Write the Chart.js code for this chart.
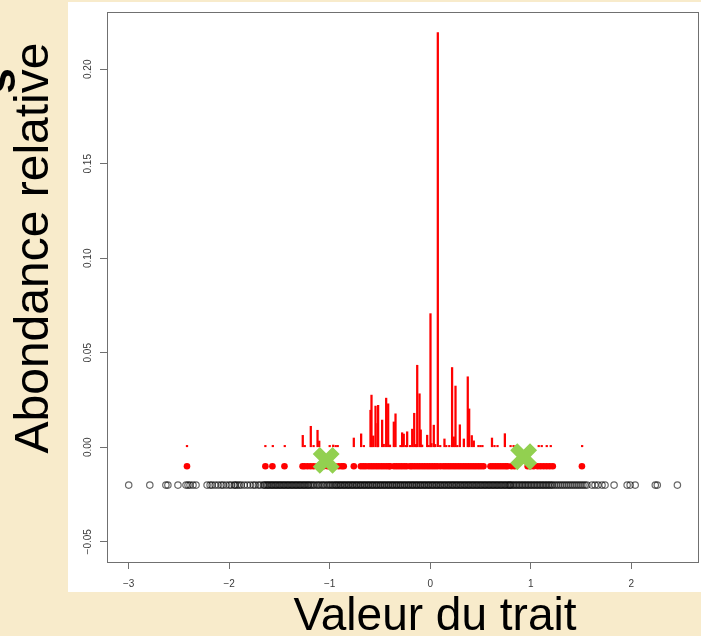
<!DOCTYPE html>
<html>
<head>
<meta charset="utf-8">
<script src="https://cdn.jsdelivr.net/npm/chart.js@4.4.1/dist/chart.umd.min.js"></script>
<style>
html, body { margin: 0; padding: 0; background: #F8EBCB; overflow: hidden; }
#wrap { width: 701px; height: 636px; }
</style>
</head>
<body>
<div id="wrap"><canvas id="chart" width="701" height="636"></canvas></div>
<script>
// --- DATA ---
const xTicks = [-3, -2, -1, 0, 1, 2];
const xTickLabels = ['\u22123', '\u22122', '\u22121', '0', '1', '2'];
const yTicks = [-0.05, 0, 0.05, 0.10, 0.15, 0.20];
const yTickLabels = ['\u22120.05', '0.00', '0.05', '0.10', '0.15', '0.20'];

// trait values of all species in the pool (black open circles at y = -0.02)
const poolX = [
  -3.00, -2.79, -2.63, -2.61, -2.51, -2.43, -2.41, -2.39, -2.36, -2.33,
  -2.22, -2.19, -2.17, -2.14, -2.11, -2.08, -2.06, -2.03, -2.00, -1.98, -1.95, -1.94, -1.92, -1.90, -1.88,
  -1.85, -1.82, -1.79, -1.76, -1.74, -1.71, -1.69,
  -1.66, -1.65, -1.635, -1.62, -1.61, -1.595, -1.58, -1.57, -1.555, -1.54, -1.53, -1.515, -1.50, -1.49,
  -1.475, -1.46, -1.45, -1.435, -1.42, -1.41, -1.395, -1.38, -1.37, -1.355, -1.34, -1.33, -1.315, -1.30,
  -1.29, -1.275, -1.26, -1.25, -1.235, -1.22, -1.21, -1.195, -1.18, -1.165, -1.15, -1.13, -1.115, -1.10,
  -1.08, -1.065, -1.05, -1.03, -1.015, -1.00, -0.985, -0.97, -0.955, -0.94, -0.93, -0.915, -0.90, -0.89,
  -0.875, -0.86, -0.85, -0.835, -0.82, -0.81, -0.795, -0.78, -0.77, -0.755, -0.74, -0.73, -0.715, -0.70,
  -0.69, -0.675, -0.66, -0.65, -0.635, -0.62, -0.61, -0.595, -0.58, -0.57, -0.555, -0.54, -0.53, -0.515,
  -0.50, -0.49, -0.475, -0.46, -0.45, -0.435, -0.42, -0.41, -0.395, -0.38, -0.37, -0.355, -0.34, -0.33,
  -0.315, -0.30, -0.29, -0.275, -0.26, -0.25, -0.235, -0.22, -0.21, -0.195, -0.18, -0.17, -0.155, -0.14,
  -0.13, -0.115, -0.10, -0.09, -0.075, -0.06, -0.05, -0.035, -0.02, -0.01, 0.005, 0.02, 0.03, 0.045,
  0.06, 0.07, 0.085, 0.10, 0.11, 0.125, 0.14, 0.15, 0.165, 0.18, 0.19, 0.205, 0.22, 0.23, 0.245, 0.26,
  0.27, 0.285, 0.30, 0.31, 0.325, 0.34, 0.35, 0.365, 0.38, 0.39, 0.405, 0.42, 0.43, 0.445, 0.46, 0.47,
  0.485, 0.50, 0.51, 0.525, 0.54, 0.55, 0.565, 0.58, 0.59, 0.605, 0.62, 0.63, 0.645, 0.66, 0.67, 0.685,
  0.70, 0.71, 0.725, 0.74, 0.75, 0.765, 0.78, 0.79, 0.80,
  0.815, 0.83, 0.845, 0.86, 0.875, 0.89, 0.905, 0.92, 0.935, 0.95, 0.965, 0.98, 0.995, 1.01, 1.025,
  1.04, 1.055, 1.07, 1.085, 1.10, 1.115, 1.13, 1.145, 1.16, 1.175, 1.19, 1.205, 1.22, 1.24, 1.26, 1.28,
  1.30, 1.32, 1.34, 1.36, 1.38, 1.40, 1.42, 1.44, 1.46, 1.48, 1.50, 1.52, 1.54, 1.56,
  1.61, 1.64, 1.67, 1.71, 1.74, 1.83, 1.96, 1.99, 2.04, 2.24, 2.26, 2.46
];
const poolY = -0.02;

// species present in the community (red dots at y = -0.01)
const presentX = [
  -2.42, -1.64, -1.57, -1.45, -1.27, -1.25, -1.22, -1.19, -1.16, -1.12, -1.10, -1.06, -1.02, -0.98,
  -0.95, -0.91, -0.88, -0.86, -0.76, -0.69, -0.665, -0.64, -0.61, -0.585, -0.56, -0.535, -0.51, -0.485,
  -0.46, -0.435, -0.41, -0.40, -0.36, -0.335, -0.31, -0.285, -0.26, -0.235, -0.20, -0.18, -0.155, -0.13,
  -0.105, -0.08, -0.055, -0.03, -0.005, 0.02, 0.045, 0.07, 0.10, 0.13, 0.155, 0.18, 0.205, 0.23, 0.255,
  0.28, 0.305, 0.33, 0.355, 0.38, 0.405, 0.43, 0.455, 0.48, 0.505, 0.53, 0.60, 0.625, 0.65, 0.675, 0.70,
  0.725, 0.75, 0.77, 0.81, 0.84, 0.97, 1.00, 1.03, 1.07, 1.10, 1.13, 1.16, 1.19, 1.22, 1.51
];
const presentY = -0.01;

// relative abundances (red vertical lines)
const abundX = [
  -2.42, -1.64, -1.566, -1.447, -1.268, -1.248, -1.188, -1.16, -1.121, -1.104, -1.00, -0.965, -0.94, -0.92,
  -0.76, -0.687, -0.66, -0.594, -0.584, -0.567, -0.544, -0.524, -0.518, -0.478, -0.462, -0.438, -0.418,
  -0.40, -0.362, -0.345, -0.296, -0.279, -0.263, -0.24, -0.229, -0.20, -0.179, -0.159, -0.14, -0.129,
  -0.106, -0.094, -0.08, -0.03, -0.015, 0.003, 0.013, 0.036, 0.05, 0.076, 0.10, 0.142, 0.16, 0.19, 0.218,
  0.235, 0.252, 0.27, 0.295, 0.335, 0.374, 0.388, 0.414, 0.434, 0.48, 0.50, 0.52, 0.615, 0.64, 0.67,
  0.743, 0.80, 0.83, 0.86, 1.08, 1.11, 1.16, 1.20, 1.512
];
const abundY = [
  0.001, 0.001, 0.001, 0.001, 0.0063, 0.001, 0.0111, 0.001, 0.0090, 0.0033, 0.001, 0.0012, 0.001, 0.001,
  0.0049, 0.0071, 0.001, 0.0196, 0.0276, 0.0060, 0.0218, 0.0126, 0.0222, 0.0144, 0.0016, 0.0260, 0.0230,
  0.0012, 0.0134, 0.0177, 0.001, 0.0077, 0.0070, 0.001, 0.0082, 0.001, 0.0096, 0.0180, 0.0015, 0.0434,
  0.0283, 0.0092, 0.0012, 0.0064, 0.001, 0.0707, 0.0020, 0.0117, 0.0015, 0.2194, 0.001, 0.0044, 0.001, 0.001, 0.0422,
  0.0055, 0.0324, 0.001, 0.0119, 0.0044, 0.0373, 0.0203, 0.0062, 0.0034, 0.001, 0.001, 0.001, 0.0049, 0.001, 0.001,
  0.0072, 0.001, 0.001, 0.001, 0.001, 0.001, 0.001, 0.001, 0.001
];

// green crosses
const markX = [-1.035, 0.93];
const markY = [-0.0069, -0.0050];

// --- STYLE ---
const PARCHMENT = '#F8EBCB';
const FONT = '"Liberation Sans", Arial, sans-serif';

const decorPlugin = {
  id: 'decor',
  beforeDraw(chart) {
    const ctx = chart.ctx;
    ctx.save();
    ctx.fillStyle = PARCHMENT;
    ctx.fillRect(0, 0, chart.width, chart.height);
    ctx.fillStyle = '#ffffff';
    ctx.fillRect(68, 2, 633, 590);
    ctx.restore();
  },
  afterDraw(chart) {
    const ctx = chart.ctx;
    const a = chart.chartArea;
    const sx = chart.scales.x, sy = chart.scales.y;
    ctx.save();
    // plot frame
    ctx.strokeStyle = '#707070';
    ctx.lineWidth = 1;
    ctx.strokeRect(Math.round(a.left) + 0.5, Math.round(a.top) + 0.5,
      Math.round(a.right - a.left) - 1, Math.round(a.bottom - a.top));

    // tick labels
    ctx.fillStyle = '#3a3a3a';
    ctx.font = '10px ' + FONT;
    ctx.textAlign = 'center';
    ctx.textBaseline = 'alphabetic';
    xTicks.forEach((v, i) => {
      ctx.fillText(xTickLabels[i], sx.getPixelForValue(v), 587);
    });
    yTicks.forEach((v, i) => {
      ctx.save();
      ctx.translate(91, sy.getPixelForValue(v));
      ctx.rotate(-Math.PI / 2);
      ctx.fillText(yTickLabels[i], 0, 0);
      ctx.restore();
    });

    // slide texts
    ctx.fillStyle = '#000000';
    ctx.font = '46px ' + FONT;
    ctx.fillText('Valeur du trait', 435, 630);

    ctx.save();
    ctx.translate(48, 248);
    ctx.rotate(-Math.PI / 2);
    ctx.font = '48px ' + FONT;
    ctx.fillText('Abondance relative', 0, 0);
    ctx.restore();

    // clipped fragment of the line above
    ctx.save();
    ctx.translate(15, 81);
    ctx.rotate(-Math.PI / 2);
    ctx.font = 'bold 46px ' + FONT;
    ctx.fillText('s', 0, 0);
    ctx.restore();

    ctx.restore();
  }
};

const chart = new Chart(document.getElementById('chart'), {
  type: 'scatter',
  data: {
    datasets: [
      {
        label: 'optimum',
        order: 0,
        data: markX.map((x, i) => ({ x: x, y: markY[i] })),
        pointStyle: 'crossRot',
        radius: 14,
        borderWidth: 10,
        borderColor: '#92D050',
        backgroundColor: '#92D050'
      },
      {
        label: 'présentes',
        order: 1,
        data: presentX.map(x => ({ x: x, y: presentY })),
        pointStyle: 'circle',
        radius: 3.3,
        borderWidth: 0,
        backgroundColor: '#FF0000',
        borderColor: '#FF0000'
      },
      {
        type: 'bar',
        label: 'abondance',
        order: 2,
        data: abundX.map((x, i) => ({ x: x, y: abundY[i] })),
        backgroundColor: '#FF0000',
        borderWidth: 0,
        barThickness: 1.6,
        grouped: false
      },
      {
        label: 'pool',
        order: 3,
        data: poolX.map(x => ({ x: x, y: poolY })),
        pointStyle: 'circle',
        radius: 3.2,
        borderWidth: 1.2,
        borderColor: 'rgba(0,0,0,0.6)',
        backgroundColor: 'rgba(0,0,0,0)'
      }
    ]
  },
  options: {
    responsive: false,
    animation: false,
    devicePixelRatio: 1,
    layout: { autoPadding: false, padding: { left: 0, top: 12, right: 2, bottom: 0 } },
    plugins: { legend: { display: false }, tooltip: { enabled: false } },
    scales: {
      x: {
        type: 'linear',
        offset: false,
        min: -3.216,
        max: 2.675,
        afterBuildTicks: s => { s.ticks = xTicks.map(v => ({ value: v })); },
        afterFit: s => { s.height = 74; },
        ticks: { display: false },
        grid: { offset: false, drawOnChartArea: false, drawTicks: true, tickLength: 7, color: '#707070' },
        border: { display: false }
      },
      y: {
        type: 'linear',
        min: -0.0607,
        max: 0.2303,
        afterBuildTicks: s => { s.ticks = yTicks.map(v => ({ value: v })); },
        afterFit: s => { s.width = 107; },
        ticks: { display: false },
        grid: { drawOnChartArea: false, drawTicks: true, tickLength: 7, color: '#707070' },
        border: { display: false }
      }
    }
  },
  plugins: [decorPlugin]
});
</script>
</body>
</html>
